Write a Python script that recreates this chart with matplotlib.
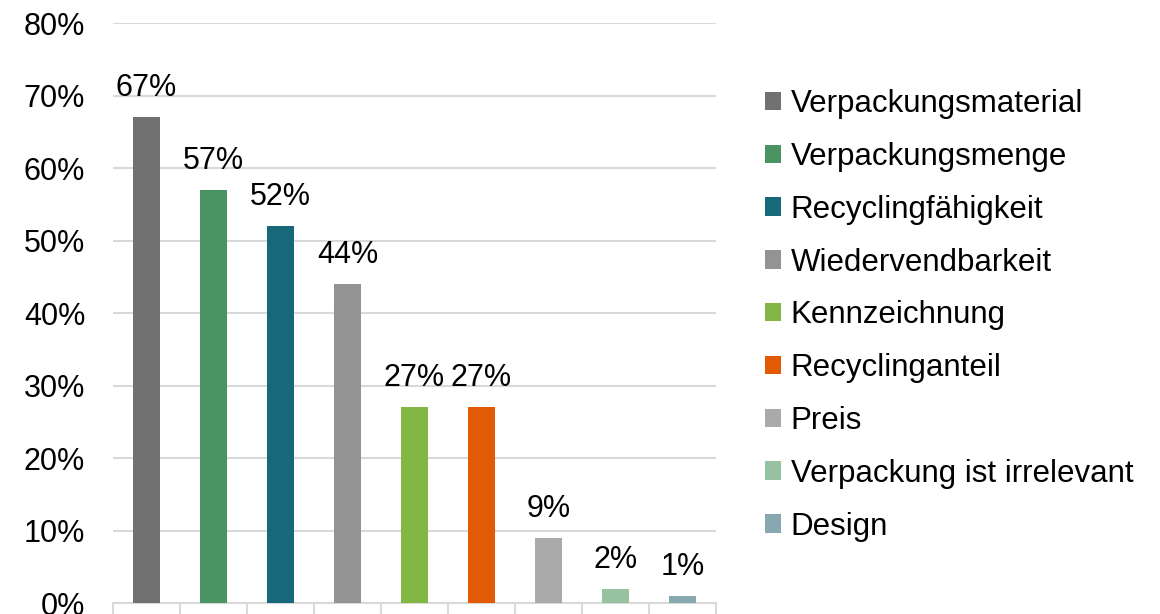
import numpy as np
import matplotlib.pyplot as plt
from matplotlib.ticker import PercentFormatter

plt.rcParams['font.family'] = ['Liberation Sans', 'DejaVu Sans']

categories = ['Verpackungsmaterial', 'Verpackungsmenge', 'Recyclingfähigkeit',
              'Wiedervendbarkeit', 'Kennzeichnung', 'Recyclinganteil', 'Preis',
              'Verpackung ist irrelevant', 'Design']
values = [67, 57, 52, 44, 27, 27, 9, 2, 1]
colors = ['#717171', '#4A9363', '#17697A', '#939393', '#82B746',
          '#E35A05', '#AAAAAA', '#97C2A2', '#87A7B1']

fig = plt.figure(figsize=(11.6, 6.14), dpi=100)
ax = fig.add_axes([0.0974, 0.0179, 0.5198, 0.9446])

x = np.arange(len(categories))
bars = ax.bar(x, values, width=0.4, color=colors, label=categories, zorder=3)

for xi, v in zip(x, values):
    ax.annotate(f'{v}%', (xi, v), xytext=(0, 10), textcoords='offset points',
                ha='center', va='bottom', fontsize=22, color='#000000')

ax.set_ylim(0, 80)
ax.set_xlim(-0.5, len(categories) - 0.5)
ax.set_yticks(np.arange(0, 81, 10))
ax.yaxis.set_major_formatter(PercentFormatter(decimals=0))
ax.tick_params(axis='y', length=0, pad=20, labelsize=22)
ax.set_xticks(np.arange(-0.5, len(categories), 1))
ax.set_xticklabels([])
ax.tick_params(axis='x', length=9, width=1.5, color='#D9D9D9', direction='out')
ax.grid(axis='y', color='#D9D9D9', linewidth=1.5, zorder=0)
for s in ['top', 'right', 'left']:
    ax.spines[s].set_visible(False)
ax.spines['bottom'].set_color('#D9D9D9')
ax.spines['bottom'].set_linewidth(1.5)

ax.legend(loc='center left', bbox_to_anchor=(1.06, 0.496), frameon=False,
          fontsize=22.5, handlelength=0.53, handleheight=0.53,
          handletextpad=0.3, labelspacing=0.73, borderaxespad=0)

fig.savefig('out.png', dpi=100)
